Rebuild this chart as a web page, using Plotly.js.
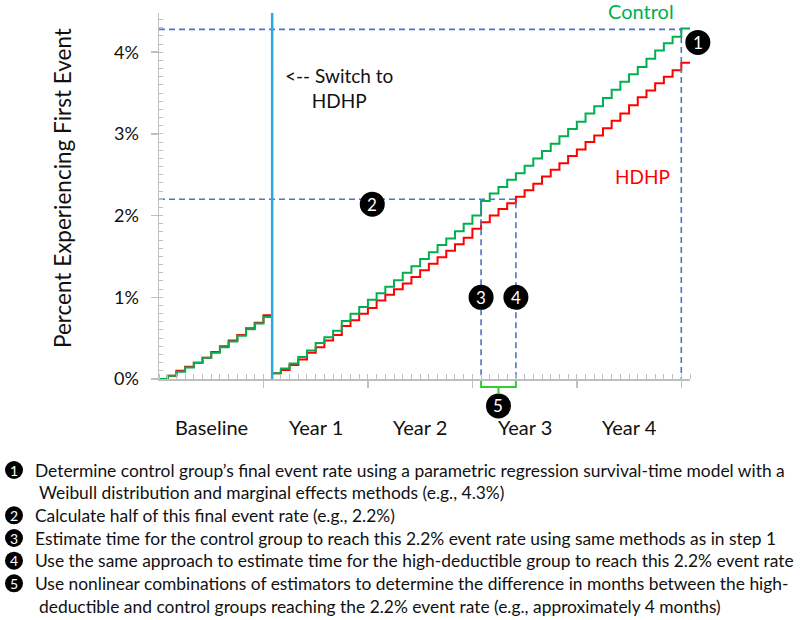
<!DOCTYPE html>
<html>
<head>
<meta charset="utf-8">
<script src="https://cdn.plot.ly/plotly-3.0.1.min.js"></script>
<style>html,body{margin:0;padding:0;background:#fff;}#chart{width:800px;height:620px;}</style>
</head>
<body>
<div id="chart"></div>
<script>
// ---- data (percent experiencing first event, by month) ----
const baselineMonths = [0,1,2,3,4,5,6,7,8,9,10,11,12,13];
const baselineControl = [0,0.04,0.09,0.14,0.20,0.26,0.32,0.39,0.46,0.53,0.61,0.68,0.76,0.76];
const baselineHDHP    = [0,0.04,0.10,0.15,0.20,0.26,0.33,0.40,0.47,0.54,0.62,0.69,0.78,0.78];

const followMonths = [13,14,15,16,17,18,19,20,21,22,23,24,25,26,27,28,29,30,31,32,33,34,35,36,37,38,39,40,41,42,43,44,45,46,47,48,49,50,51,52,53,54,55,56,57,58,59,60,61];
const followControl = [0.07,0.13,0.19,0.27,0.35,0.44,0.51,0.59,0.71,0.80,0.88,0.97,1.05,1.13,1.21,1.30,1.38,1.47,1.55,1.64,1.72,1.81,1.90,2.00,2.18,2.27,2.35,2.44,2.52,2.61,2.70,2.79,2.88,2.97,3.06,3.15,3.25,3.34,3.44,3.54,3.64,3.73,3.82,3.92,4.02,4.11,4.19,4.29,4.29];
const followHDHP = [0.07,0.11,0.17,0.24,0.32,0.39,0.47,0.54,0.65,0.72,0.80,0.87,0.96,1.03,1.10,1.17,1.25,1.33,1.41,1.49,1.57,1.65,1.73,1.84,1.92,2.00,2.08,2.15,2.23,2.31,2.39,2.48,2.56,2.64,2.73,2.81,2.90,2.98,3.07,3.16,3.25,3.35,3.45,3.53,3.62,3.70,3.78,3.87,3.87];

const switchMonth = 13;
const finalRate = 4.28;      // control group's final event rate
const halfRate = 2.2;        // half of the final rate
const finalMonth = 60;
const controlReachMonth = 37;
const hdhpReachMonth = 41;

const periodLabels = ["Baseline","Year 1","Year 2","Year 3","Year 4"];
const periodCenters = [6,18,30,42,54];
const yTickVals = [0,1,2,3,4];
const yTickText = ["0%","1%","2%","3%","4%"];
const yearTicks = [12,24,36,48,60];

const stepLabels = ["1","2","3","4","5"];
const stepX = [61.9, 24.5, 37, 41, 39];
const stepY = [4.12, 2.14, 1.0, 1.0, -0.33];

const noteGlyphs = ["1","","2","3","4","5",""];
const noteLines = [
  "Determine control group’s final event rate using a parametric regression survival-time model with a",
  "Weibull distribution and marginal effects methods (e.g., 4.3%)",
  "Calculate half of this final event rate (e.g., 2.2%)",
  "Estimate time for the control group to reach this 2.2% event rate using same methods as in step 1",
  "Use the same approach to estimate time for the high-deductible group to reach this 2.2% event rate",
  "Use nonlinear combinations of estimators to determine the difference in months between the high-",
  "deductible and control groups reaching the 2.2% event rate (e.g., approximately 4 months)"
];

// ---- layout geometry ----
const W = 800, H = 620, ML = 159, MR = 110, MT = 13, MB = 241;
const PW = W - ML - MR, PH = H - MT - MB;
const xr = [0, 61], yr = [0, 4.48];
const px2x = p => (p - ML) / PW;
const py2y = p => (H - MB - p) / PH;
const m2p = m => (m - xr[0]) / (xr[1] - xr[0]);
const v2p = v => (v - yr[0]) / (yr[1] - yr[0]);

const GREEN = "#00B050", RED = "#FF0000", DASH = "#4F74C2", AXIS = "#BFBFBF";
const FONT = "Lato, 'Noto Sans', sans-serif";
const DASHLINE = {color: DASH, width: 1.6, dash: "6px,4px"};

const traces = [
  {x: baselineMonths, y: baselineHDHP, mode: "lines", line: {shape: "hv", color: RED, width: 2}, hoverinfo: "skip"},
  {x: baselineMonths, y: baselineControl, mode: "lines", line: {shape: "hv", color: GREEN, width: 2}, hoverinfo: "skip"},
  {x: followMonths, y: followHDHP, mode: "lines", line: {shape: "hv", color: RED, width: 2}, hoverinfo: "skip"},
  {x: followMonths, y: followControl, mode: "lines", line: {shape: "hv", color: GREEN, width: 2}, hoverinfo: "skip"},
  // reference dashed lines
  {x: [0, finalMonth, finalMonth], y: [finalRate, finalRate, 0], mode: "lines", line: DASHLINE, hoverinfo: "skip"},
  {x: [0, hdhpReachMonth, hdhpReachMonth], y: [halfRate, halfRate, 0], mode: "lines", line: DASHLINE, hoverinfo: "skip"},
  {x: [controlReachMonth, controlReachMonth], y: [halfRate, 0], mode: "lines", line: DASHLINE, hoverinfo: "skip"}
];

const annotations = [];
periodLabels.forEach((t, i) => annotations.push({
  text: t, x: periodCenters[i], xref: "x", y: py2y(427), yref: "paper",
  showarrow: false, xanchor: "center", yanchor: "middle", font: {size: 20, color: "#111", family: FONT}
}));
annotations.push({text: "Control", x: px2x(641), xref: "paper", y: py2y(11), yref: "paper", showarrow: false,
  font: {size: 20, color: GREEN, family: FONT}, xanchor: "center", yanchor: "middle"});
annotations.push({text: "HDHP", x: px2x(642), xref: "paper", y: py2y(176), yref: "paper", showarrow: false,
  font: {size: 19, color: RED, family: FONT}, xanchor: "center", yanchor: "middle"});
annotations.push({text: "&lt;-- Switch to<br>HDHP", x: px2x(339), xref: "paper", y: py2y(88), yref: "paper", showarrow: false,
  font: {size: 19, color: "#111", family: FONT}, xanchor: "center", yanchor: "middle", align: "center"});
annotations.push({text: "Percent Experiencing First Event", x: px2x(62), xref: "paper", y: py2y(188), yref: "paper",
  showarrow: false, textangle: -90, font: {size: 22.5, color: "#111", family: FONT}, xanchor: "center", yanchor: "middle"});

// numbered step markers: black circles with white digits
const shapes = [
  {type: "line", xref: "x", yref: "paper", x0: switchMonth, x1: switchMonth, y0: 0, y1: 1, line: {color: "#29ABE2", width: 2.5}}
];
function badge(ax, ay, r, label, fsize) {
  shapes.push({type: "circle", xref: "paper", yref: "paper", xsizemode: "pixel", ysizemode: "pixel",
    xanchor: ax, yanchor: ay, x0: -r, x1: r, y0: -r, y1: r,
    fillcolor: "#000", line: {width: 0}, layer: "above"});
  annotations.push({text: label, x: ax, y: ay, xref: "paper", yref: "paper", showarrow: false,
    xanchor: "center", yanchor: "middle", font: {size: fsize, color: "#fff", family: FONT}});
}
stepLabels.forEach((t, i) => badge(m2p(stepX[i]), v2p(stepY[i]), 12.5, t, 17));

// bracket between the two reach times
const bTop = py2y(381), bBot = py2y(387), bTick = py2y(393);
const bx0 = m2p(controlReachMonth), bx1 = m2p(hdhpReachMonth), bxm = (bx0 + bx1) / 2;
shapes.push({type: "path", xref: "paper", yref: "paper",
  path: `M ${bx0} ${bTop} L ${bx0} ${bBot} L ${bx1} ${bBot} L ${bx1} ${bTop} M ${bxm} ${bBot} L ${bxm} ${bTick}`,
  line: {color: "#33CC33", width: 2}});

// notes below the chart
const noteY = [470, 492.7, 515.3, 538, 560.7, 583.3, 606];
noteLines.forEach((t, i) => {
  if (noteGlyphs[i]) badge(px2x(14), py2y(noteY[i]), 9, noteGlyphs[i], 14);
  annotations.push({text: t, x: px2x(noteGlyphs[i] ? 33 : 37), xref: "paper", y: py2y(noteY[i]), yref: "paper",
    showarrow: false, xanchor: "left", yanchor: "middle", align: "left", font: {size: 17.4, color: "#111", family: FONT}});
});

const layout = {
  width: W, height: H,
  margin: {l: ML, r: MR, t: MT, b: MB, pad: 0},
  paper_bgcolor: "#fff", plot_bgcolor: "#fff",
  showlegend: false,
  font: {family: FONT, color: "#111"},
  xaxis: {range: xr, showgrid: false, zeroline: false, showline: true, linecolor: AXIS, linewidth: 1.5,
    tickmode: "array", tickvals: yearTicks, ticktext: yearTicks.map(() => ""), ticks: "outside", ticklen: 7, tickcolor: AXIS, tickwidth: 1.5,
    minor: {dtick: 1, tick0: 0, ticks: "inside", ticklen: 5, tickcolor: AXIS, tickwidth: 1, showgrid: false}},
  yaxis: {range: yr, showgrid: false, zeroline: false, showline: true, linecolor: AXIS, linewidth: 1.5,
    tickmode: "array", tickvals: yTickVals, ticktext: yTickText, ticks: "outside", ticklen: 7, tickcolor: AXIS, tickwidth: 1.5,
    ticklabelstandoff: 8, tickfont: {size: 18, color: "#111", family: FONT},
    minor: {dtick: 0.1, tick0: 0, ticks: "inside", ticklen: 4, tickcolor: AXIS, tickwidth: 1, showgrid: false}},
  annotations: annotations,
  shapes: shapes
};

Plotly.newPlot("chart", traces, layout, {staticPlot: true, displayModeBar: false});
</script>
</body>
</html>
